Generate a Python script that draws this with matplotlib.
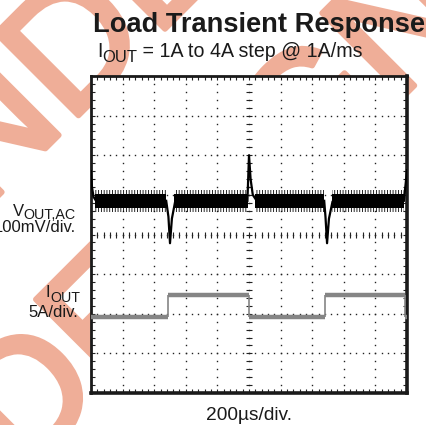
"""Load transient response scope capture (VOUT,AC and IOUT traces)."""

import numpy as np
import matplotlib

matplotlib.use("Agg")
import matplotlib.pyplot as plt
import matplotlib.patheffects as pe

plt.rcParams["font.family"] = ["Liberation Sans", "DejaVu Sans"]
plt.rcParams["hatch.linewidth"] = 0.6

# --- data, in scope divisions (x: 0..10 div, y: -4..4 div) ---
# VOUT,AC noise band segments between transients
band_start = [0.12, 2.64, 5.20, 7.64]
band_end = [2.38, 4.96, 7.38, 9.92]
band_core = (0.66, 1.03)
band_fringe = (0.57, 1.13)

# transient edges of VOUT,AC
tail_x = [0.0, 0.03, 0.08, 0.15]
tail_y = [1.60, 1.20, 0.95, 0.86]
dip1_x = [2.38, 2.45, 2.50, 2.56, 2.66]
dip1_y = [0.85, 0.45, -0.22, 0.40, 0.82]
peak_x = [4.95, 5.00, 5.05, 5.12, 5.22]
peak_y = [0.85, 2.00, 1.40, 1.00, 0.88]
dip2_x = [7.38, 7.42, 7.47, 7.53, 7.64]
dip2_y = [0.85, 0.45, -0.22, 0.40, 0.82]
rise_x = [9.90, 9.96, 10.0]
rise_y = [0.85, 1.30, 1.62]

# IOUT step levels (low = 1A, high = 4A)
iout_edges = [0.0, 2.45, 5.0, 7.42, 9.93, 10.0]
iout_level = [-2.09, -1.53, -2.09, -1.53, -2.09]

watermark_lines = ["RECOMMENDED", "FOR NEW DESIGNS"]

W, H = 427, 425
fig = plt.figure(figsize=(W / 100, H / 100), dpi=100)
fig.patch.set_facecolor("white")


def fx(x):
    return x / W


def fy(y):
    return 1 - y / H


# watermark behind everything (45 deg, centred lines)
wm = "#EFAE98"
for (px, py), line in zip([(-161, 355), (-8, 508)], watermark_lines):
    fig.text(fx(px), fy(py), line, rotation=45, rotation_mode="anchor",
             fontsize=122, color=wm, zorder=-1, ha="center", va="baseline",
             path_effects=[pe.withStroke(linewidth=4, foreground=wm)])

ax = fig.add_axes([91 / W, 1 - 393 / H, 316 / W, 317 / H])
ax.set_facecolor("white")
ax.set_xlim(0, 10)
ax.set_ylim(-4, 4)

# scope graticule: dotted lines every division, dots every 0.2 div
xs = np.arange(0, 10.001, 0.2)
ys = np.arange(-4, 4.001, 0.2)
for gx in range(1, 10):
    ax.plot(np.full_like(ys, gx), ys, ls="none", marker="s", ms=1.0, mew=0,
            color="#222222", zorder=1)
for gy in range(-3, 4):
    ax.plot(xs, np.full_like(xs, gy), ls="none", marker="s", ms=1.0, mew=0,
            color="#222222", zorder=1)
ax.plot(np.full_like(ys, 5), ys, ls="none", marker="_", ms=5, mew=0.8, color="#222222", zorder=1)
ax.plot(xs, np.zeros_like(xs), ls="none", marker="|", ms=5, mew=0.8, color="#222222", zorder=1)

ax.set_xticks(range(0, 11))
ax.set_yticks(range(-4, 5))
ax.set_xticks(xs, minor=True)
ax.set_yticks(ys, minor=True)
ax.tick_params(which="both", direction="in", length=3, width=0.8, color="#222222",
               top=True, right=True, labelbottom=False, labelleft=False)
for name, sp in ax.spines.items():
    sp.set_linewidth(2.0 if name in ("left", "top") else 2.6)
    sp.set_color("#1a1a1a")

# VOUT,AC band
for x0, x1 in zip(band_start, band_end):
    seg = [x0, x1]
    ax.fill_between(seg, band_core[0], band_core[1], color="black", lw=0, zorder=3)
    ax.fill_between(seg, band_core[1], band_fringe[1], facecolor="none", edgecolor="black",
                    hatch="||||||", lw=0, zorder=3)
    ax.fill_between(seg, band_fringe[0], band_core[0], facecolor="none", edgecolor="black",
                    hatch="||||||", lw=0, zorder=3)
for sx, sy in [(tail_x, tail_y), (dip1_x, dip1_y), (peak_x, peak_y),
               (dip2_x, dip2_y), (rise_x, rise_y)]:
    ax.plot(sx, sy, color="black", lw=1.6, zorder=3)

# IOUT trace
for i, lvl in enumerate(iout_level):
    ax.hlines(lvl, iout_edges[i], iout_edges[i + 1], color="#858585", lw=3.2, zorder=3)
for i in range(1, len(iout_edges) - 1):
    ax.vlines(iout_edges[i], iout_level[i - 1], iout_level[i], color="#858585", lw=1.2, zorder=3)


def rich(x, y, pieces, ha="left", weight="normal"):
    """Place text pieces (string, size, baseline shift in px) side by side."""
    r = fig.canvas.get_renderer()
    arts = []
    for s, size, dy in pieces:
        t = fig.text(0, 0, s, fontsize=size, va="baseline", ha="left",
                     weight=weight, color="#1a1a1a", zorder=5)
        arts.append((t, dy, t.get_window_extent(r).width))
    total = sum(a[2] for a in arts)
    if ha == "right":
        x -= total
    elif ha == "center":
        x -= total / 2
    for t, dy, w in arts:
        t.set_position((fx(x), fy(y + dy)))
        x += w


rich(93, 32, [("Load Transient Response", 19.6, 0)], weight="bold")
rich(97, 57, [("I", 14.1, 0), ("OUT", 12.0, 5), (" = 1A to 4A step @ 1A/ms", 14.1, 0)])
rich(76, 216, [("V", 12, 0), ("OUT,AC", 10.3, 3)], ha="right")
rich(76, 232, [("100mV/div.", 12, 0)], ha="right")
rich(80, 297, [("I", 12, 0), ("OUT", 10.3, 5)], ha="right")
rich(78, 317, [("5A/div.", 12, 0)], ha="right")
rich(249, 420, [("200µs/div.", 13.8, 0)], ha="center")

fig.savefig("out.png", dpi=100, facecolor="white")
